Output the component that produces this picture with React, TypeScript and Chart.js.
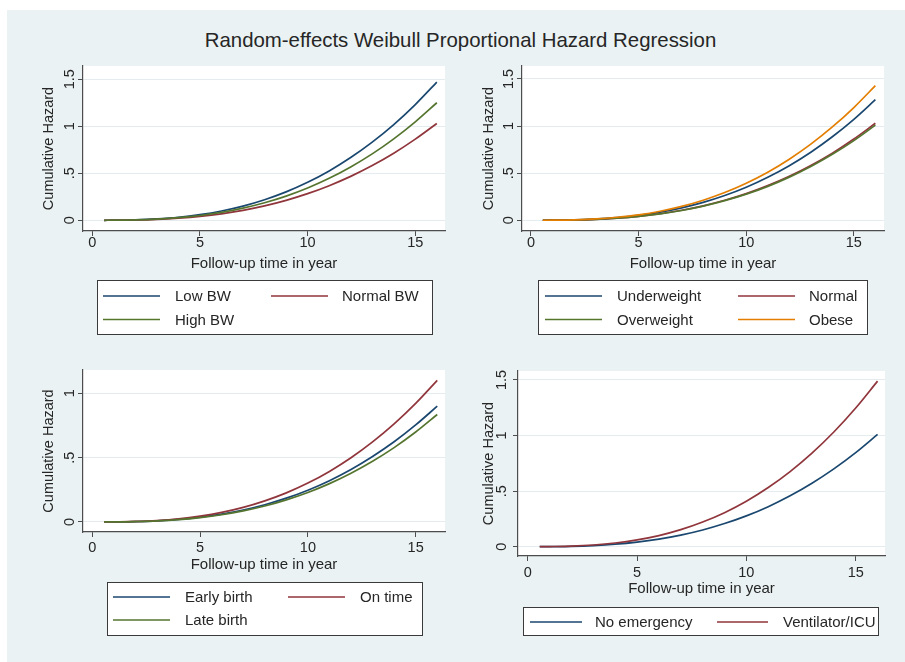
import React, { useEffect, useRef } from 'react';
import { Chart, registerables } from 'chart.js';

Chart.register(...registerables);

const FONT = '"Liberation Sans", Arial, Helvetica, sans-serif';
const PAGE_BG = '#eaf2f3';
const TEXT = '#262626';
const AXIS = '#4d4d4d';
const GRID = '#e4ecef';

const NAVY = '#1a476f';
const MAROON = '#90353b';
const GREEN = '#55752f';
const ORANGE = '#e37e00';

const chartTitle = 'Random-effects Weibull Proportional Hazard Regression';
const xAxisTitle = 'Follow-up time in year';
const yAxisTitle = 'Cumulative Hazard';

// follow-up times (years) at which the fitted cumulative hazards are listed
const followUpYears = [0.55, 1, 2, 3, 4, 5, 6, 7, 8, 9, 10, 11, 12, 13, 14, 15, 16];

const xTickValues = [0, 5, 10, 15];
const yTicksToOnePointFive = [0, 0.5, 1, 1.5];
const yTicksToOne = [0, 0.5, 1];

// birth weight
const birthWeightLabels = ['Low BW', 'Normal BW', 'High BW'];
const lowBW = [0, 0.001, 0.005, 0.015, 0.032, 0.06, 0.099, 0.151, 0.219, 0.302, 0.404, 0.525, 0.667, 0.831, 1.018, 1.231, 1.47];
const normalBW = [0, 0.001, 0.003, 0.01, 0.023, 0.042, 0.069, 0.106, 0.153, 0.212, 0.283, 0.368, 0.467, 0.582, 0.713, 0.863, 1.03];
const highBW = [0, 0.001, 0.004, 0.013, 0.028, 0.051, 0.084, 0.129, 0.186, 0.257, 0.343, 0.446, 0.567, 0.706, 0.866, 1.047, 1.25];

// body mass index group
const bmiLabels = ['Underweight', 'Normal', 'Overweight', 'Obese'];
const underweight = [0, 0.001, 0.004, 0.013, 0.028, 0.052, 0.086, 0.132, 0.19, 0.263, 0.351, 0.457, 0.58, 0.723, 0.887, 1.072, 1.28];
const normalBMI = [0, 0.001, 0.003, 0.01, 0.023, 0.042, 0.069, 0.106, 0.153, 0.212, 0.283, 0.368, 0.467, 0.582, 0.713, 0.863, 1.03];
const overweight = [0, 0, 0.003, 0.01, 0.022, 0.041, 0.068, 0.104, 0.15, 0.208, 0.277, 0.36, 0.458, 0.571, 0.7, 0.846, 1.01];
const obese = [0, 0.001, 0.005, 0.014, 0.032, 0.058, 0.096, 0.147, 0.213, 0.294, 0.393, 0.51, 0.648, 0.808, 0.991, 1.197, 1.43];

// timing of birth
const birthTimingLabels = ['Early birth', 'On time', 'Late birth'];
const earlyBirth = [0, 0, 0.003, 0.009, 0.02, 0.037, 0.061, 0.093, 0.134, 0.185, 0.247, 0.321, 0.408, 0.509, 0.623, 0.754, 0.9];
const onTime = [0, 0.001, 0.004, 0.011, 0.024, 0.045, 0.074, 0.113, 0.164, 0.226, 0.302, 0.393, 0.499, 0.622, 0.762, 0.921, 1.1];
const lateBirth = [0, 0, 0.003, 0.008, 0.018, 0.034, 0.056, 0.086, 0.124, 0.172, 0.229, 0.298, 0.379, 0.472, 0.578, 0.699, 0.835];

// emergency care at birth
const emergencyLabels = ['No emergency', 'Ventilator/ICU'];
const noEmergency = [0, 0, 0.003, 0.01, 0.022, 0.041, 0.068, 0.104, 0.15, 0.208, 0.277, 0.36, 0.458, 0.571, 0.7, 0.846, 1.01];
const ventilatorICU = [0, 0.001, 0.005, 0.015, 0.033, 0.061, 0.1, 0.153, 0.222, 0.306, 0.409, 0.532, 0.676, 0.842, 1.032, 1.248, 1.49];

type Series = { label: string; data: number[]; color: string };
type Rect = { x: number; y: number; w: number; h: number };
type PanelSpec = {
  frame: Rect; // canvas placement on the page
  plot: { left: number; top: number; right: number; bottom: number };
  xMin: number;
  xMax: number;
  yMin: number;
  yMax: number;
  yTicks: number[];
  series: Series[];
  xLabelGap: number;
  yLabelOffset: number;
  yTitleX: number;
  legend: {
    box: { left: number; top: number; right: number; bottom: number };
    rows: number[];
    cols: { lineFrom: number; lineTo: number; text: number }[];
  };
};

const pair = (labels: string[], values: number[][], colors: string[]): Series[] =>
  labels.map((label, i) => ({ label, data: values[i], color: colors[i] }));

const panels: PanelSpec[] = [
  {
    frame: { x: 7, y: 58, w: 449, h: 300 },
    plot: { left: 83, top: 66, right: 445, bottom: 231 },
    xMin: -0.432, xMax: 16.38, yMin: -0.114, yMax: 1.641,
    yTicks: yTicksToOnePointFive,
    series: pair(birthWeightLabels, [lowBW, normalBW, highBW], [NAVY, MAROON, GREEN]),
    xLabelGap: 0,
    yLabelOffset: 14.5,
    yTitleX: 48.5,
    legend: {
      box: { left: 97, top: 280, right: 432, bottom: 334 },
      rows: [296, 319.5],
      cols: [
        { lineFrom: 103, lineTo: 160, text: 175 },
        { lineFrom: 271, lineTo: 328, text: 342 },
      ],
    },
  },
  {
    frame: { x: 456, y: 58, w: 449, h: 300 },
    plot: { left: 522, top: 66, right: 884, bottom: 231 },
    xMin: -0.418, xMax: 16.4, yMin: -0.114, yMax: 1.638,
    yTicks: yTicksToOnePointFive,
    series: pair(bmiLabels, [underweight, normalBMI, overweight, obese], [NAVY, MAROON, GREEN, ORANGE]),
    xLabelGap: 0,
    yLabelOffset: 14.5,
    yTitleX: 488.5,
    legend: {
      box: { left: 538, top: 280, right: 867, bottom: 334 },
      rows: [296, 319.5],
      cols: [
        { lineFrom: 545, lineTo: 602, text: 617 },
        { lineFrom: 738, lineTo: 795, text: 809 },
      ],
    },
  },
  {
    frame: { x: 7, y: 358, w: 449, h: 304 },
    plot: { left: 83, top: 370, right: 445, bottom: 532 },
    xMin: -0.431, xMax: 16.36, yMin: -0.078, yMax: 1.181,
    yTicks: yTicksToOne,
    series: pair(birthTimingLabels, [earlyBirth, onTime, lateBirth], [NAVY, MAROON, GREEN]),
    xLabelGap: 4,
    yLabelOffset: 14.5,
    yTitleX: 48.5,
    legend: {
      box: { left: 107, top: 582, right: 422, bottom: 635 },
      rows: [597, 620],
      cols: [
        { lineFrom: 113, lineTo: 170, text: 185 },
        { lineFrom: 288, lineTo: 345, text: 360 },
      ],
    },
  },
  {
    frame: { x: 456, y: 358, w: 449, h: 304 },
    plot: { left: 518, top: 371, right: 885, bottom: 556 },
    xMin: -0.444, xMax: 16.34, yMin: -0.084, yMax: 1.581,
    yTicks: yTicksToOnePointFive,
    series: pair(emergencyLabels, [noEmergency, ventilatorICU], [NAVY, MAROON]),
    xLabelGap: 5,
    yLabelOffset: 17.5,
    yTitleX: 488.5,
    legend: {
      box: { left: 523, top: 607, right: 878, bottom: 635 },
      rows: [622],
      cols: [
        { lineFrom: 530, lineTo: 582, text: 595 },
        { lineFrom: 717, lineTo: 768, text: 783 },
      ],
    },
  },
];

// Stata-style tick text: 0.5 -> ".5"
function stataTick(v: number): string {
  const s = String(v);
  return s.startsWith('0.') ? s.slice(1) : s;
}

const X_SCALE_HEIGHT = 42;

function HazardPanel({ spec }: { spec: PanelSpec }) {
  const ref = useRef<HTMLCanvasElement>(null);

  useEffect(() => {
    const canvas = ref.current;
    if (!canvas) return;
    const { frame, plot, legend } = spec;

    const plotBackground = {
      id: 'plotBackground',
      beforeDraw(chart: any) {
        const { ctx, chartArea } = chart;
        ctx.save();
        ctx.fillStyle = '#ffffff';
        ctx.fillRect(chartArea.left, chartArea.top, chartArea.right - chartArea.left, chartArea.bottom - chartArea.top);
        ctx.restore();
      },
    };

    // vertical y tick labels, reading bottom to top
    const verticalYLabels = {
      id: 'verticalYLabels',
      afterDraw(chart: any) {
        const { ctx, chartArea } = chart;
        const yScale = chart.scales.y;
        ctx.save();
        ctx.fillStyle = TEXT;
        ctx.font = `14.5px ${FONT}`;
        ctx.textAlign = 'center';
        ctx.textBaseline = 'middle';
        for (const tick of yScale.ticks) {
          const py = yScale.getPixelForValue(tick.value);
          ctx.save();
          ctx.translate(chartArea.left - spec.yLabelOffset, py);
          ctx.rotate(-Math.PI / 2);
          ctx.fillText(stataTick(tick.value), 0, 1);
          ctx.restore();
        }
        ctx.restore();
      },
    };

    const legendBox = {
      id: 'legendBox',
      afterDraw(chart: any) {
        const { ctx } = chart;
        const ox = frame.x;
        const oy = frame.y;
        const b = legend.box;
        ctx.save();
        ctx.fillStyle = '#ffffff';
        ctx.fillRect(b.left - ox, b.top - oy, b.right - b.left, b.bottom - b.top);
        ctx.strokeStyle = '#3a3a3a';
        ctx.lineWidth = 1;
        ctx.strokeRect(b.left - ox + 0.5, b.top - oy + 0.5, b.right - b.left, b.bottom - b.top);
        ctx.font = `15px ${FONT}`;
        ctx.textAlign = 'left';
        ctx.textBaseline = 'middle';
        chart.data.datasets.forEach((ds: any, i: number) => {
          const row = legend.rows[Math.floor(i / 2)];
          const col = legend.cols[i % 2];
          const y = row - oy;
          ctx.strokeStyle = ds.borderColor;
          ctx.lineWidth = 1.7;
          ctx.beginPath();
          ctx.moveTo(col.lineFrom - ox, y);
          ctx.lineTo(col.lineTo - ox, y);
          ctx.stroke();
          ctx.fillStyle = TEXT;
          ctx.fillText(ds.label, col.text - ox, y + 1);
        });
        ctx.restore();
      },
    };

    const chart = new Chart(canvas, {
      type: 'line',
      data: {
        datasets: spec.series.map((s, i) => ({
          label: s.label,
          data: followUpYears.map((t, k) => ({ x: t, y: s.data[k] })),
          borderColor: s.color,
          backgroundColor: s.color,
          borderWidth: 1.7,
          pointRadius: 0,
          cubicInterpolationMode: 'monotone' as const,
          fill: false,
          order: -i,
        })),
      },
      options: {
        responsive: false,
        animation: false,
        events: [],
        layout: {
          padding: {
            left: 0,
            top: plot.top - frame.y,
            right: frame.x + frame.w - plot.right,
            bottom: frame.y + frame.h - plot.bottom - X_SCALE_HEIGHT,
          },
        },
        plugins: {
          legend: { display: false },
          title: { display: false },
          tooltip: { enabled: false },
        },
        scales: {
          x: {
            type: 'linear',
            position: 'bottom',
            min: spec.xMin,
            max: spec.xMax,
            afterBuildTicks: (s: any) => {
              s.ticks = xTickValues.map((v) => ({ value: v }));
            },
            afterFit: (s: any) => {
              s.height = X_SCALE_HEIGHT;
            },
            grid: { drawOnChartArea: false, drawTicks: true, tickLength: 5, tickColor: AXIS, tickWidth: 1 },
            border: { display: true, color: AXIS, width: 1.2 },
            ticks: {
              padding: spec.xLabelGap,
              color: TEXT,
              autoSkip: false,
              maxRotation: 0,
              font: { family: FONT, size: 14.5, lineHeight: 1 },
              callback: (v: any) => stataTick(Number(v)),
            },
            title: {
              display: true,
              text: xAxisTitle,
              color: TEXT,
              font: { family: FONT, size: 15, lineHeight: 1.2 },
              padding: 0,
            },
          },
          y: {
            type: 'linear',
            position: 'left',
            min: spec.yMin,
            max: spec.yMax,
            afterBuildTicks: (s: any) => {
              s.ticks = spec.yTicks.map((v) => ({ value: v }));
            },
            afterFit: (s: any) => {
              s.width = plot.left - frame.x;
            },
            grid: { color: GRID, lineWidth: 1, drawTicks: true, tickLength: 5, tickColor: AXIS, tickWidth: 1 },
            border: { display: true, color: AXIS, width: 1.2 },
            ticks: { display: false },
            title: {
              display: true,
              text: yAxisTitle,
              color: TEXT,
              font: { family: FONT, size: 14.5, lineHeight: 1.2 },
              padding: { top: spec.yTitleX - frame.x - 8.7, bottom: 0 },
            },
          },
        },
      },
      plugins: [plotBackground, verticalYLabels, legendBox],
    } as any);

    return () => chart.destroy();
  }, [spec]);

  return (
    <canvas
      ref={ref}
      width={spec.frame.w}
      height={spec.frame.h}
      style={{ position: 'absolute', left: spec.frame.x, top: spec.frame.y, width: spec.frame.w, height: spec.frame.h }}
    />
  );
}

export default function App() {
  return (
    <div style={{ position: 'absolute', left: 0, top: 0, width: 905, height: 662, background: '#ffffff', overflow: 'hidden' }}>
      <div style={{ position: 'absolute', left: 7, top: 10, width: 898, height: 652, background: PAGE_BG }} />
      <div
        style={{
          position: 'absolute',
          left: 460.5,
          top: 28,
          transform: 'translateX(-50%)',
          whiteSpace: 'nowrap',
          fontFamily: FONT,
          fontSize: 20.4,
          lineHeight: '24px',
          color: TEXT,
        }}
      >
        {chartTitle}
      </div>
      {panels.map((p, i) => (
        <HazardPanel key={i} spec={p} />
      ))}
    </div>
  );
}
